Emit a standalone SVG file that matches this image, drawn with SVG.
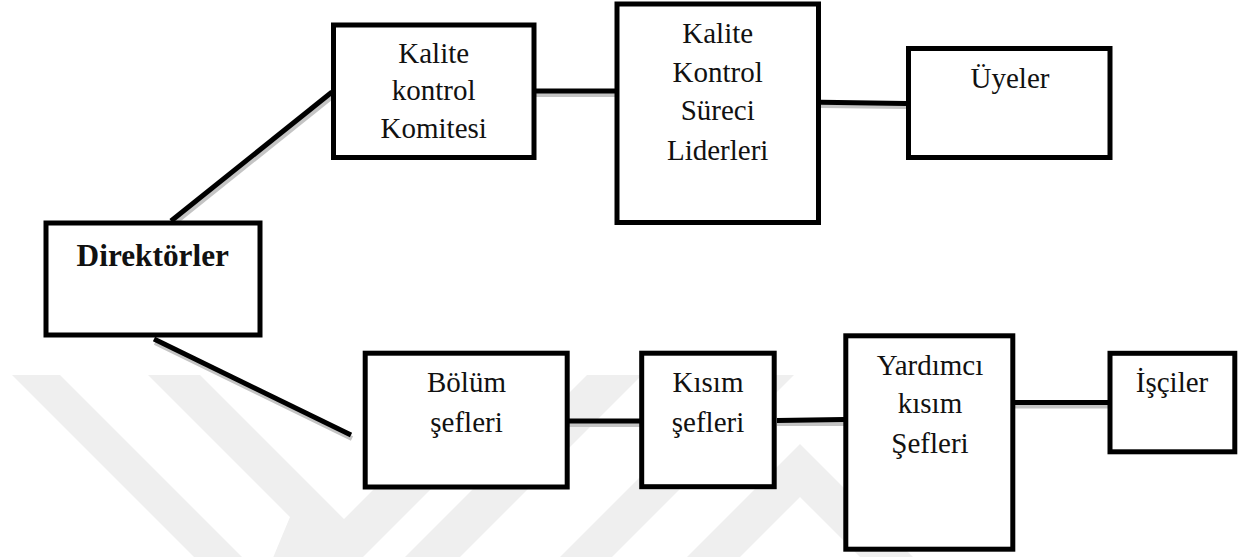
<svg xmlns="http://www.w3.org/2000/svg" width="1257" height="557" viewBox="0 0 1257 557">
<style>
.box{fill:#ffffff;stroke:#000000;stroke-width:5}
.t{font-family:"Liberation Serif","Times New Roman",serif;font-size:29px;fill:#111111;text-anchor:middle}
.tb{font-family:"Liberation Serif","Times New Roman",serif;font-size:31.3px;font-weight:bold;fill:#111111;text-anchor:middle}
.ln{stroke:#000000;stroke-width:5;fill:none}
.sh{stroke:#c4c4c4;stroke-width:5;fill:none}
.wm{fill:#efefef}
</style>
<defs>
<clipPath id="wmclip"><rect x="0" y="375" width="1257" height="182"/></clipPath>
</defs>
<rect x="0" y="0" width="1257" height="557" fill="#ffffff"/>
<g id="watermark" clip-path="url(#wmclip)">
<polygon class="wm" points="12,375 60,375 250,565 202,565"/>
<polygon class="wm" points="148,375 200,375 344,519 476,387 488,375 545,375 307,613 250,613 290,517"/>
<polygon class="wm" points="587,375 642,375 455,562 400,562"/>
<polygon class="wm" points="742,375 794,375 600,569 548,569"/>
<polygon class="wm" points="800,444 915,559 862,559 800,497 740,557 687,557"/>
</g>
<g id="connectors">
<line class="sh" x1="172.5" y1="224.5" x2="333.5" y2="95.5"/>
<line class="sh" x1="536" y1="94.5" x2="615" y2="94.5"/>
<line class="sh" x1="821" y1="105.5" x2="906" y2="106.5"/>
<line class="sh" x1="155" y1="342.5" x2="352" y2="438.5"/>
<line class="sh" x1="569" y1="424.5" x2="640" y2="424.5"/>
<line class="sh" x1="777" y1="423.5" x2="844" y2="423.5"/>
<line class="sh" x1="1015" y1="406" x2="1108" y2="406"/>
<line class="ln" x1="171" y1="221" x2="332" y2="92"/>
<line class="ln" x1="536" y1="91" x2="615" y2="91"/>
<line class="ln" x1="821" y1="102.3" x2="906" y2="103.4"/>
<line class="ln" x1="154" y1="339" x2="351" y2="435"/>
<line class="ln" x1="569" y1="421" x2="640" y2="421"/>
<line class="ln" x1="777" y1="420.5" x2="844" y2="419.5"/>
<line class="ln" x1="1015" y1="402.5" x2="1108" y2="402.5"/>
</g>
<g id="direktorler">
<rect class="box" x="46" y="223" width="214" height="112"/>
<text class="tb" x="152.8" y="265.7">Direktörler</text>
</g>
<g id="kalite-kontrol-komitesi">
<rect class="box" x="333.5" y="25" width="200.5" height="132.5"/>
<text class="t" x="433.7" y="63">Kalite</text>
<text class="t" x="433.7" y="100.3">kontrol</text>
<text class="t" x="433.7" y="138.3">Komitesi</text>
</g>
<g id="kalite-kontrol-sureci-liderleri">
<rect class="box" x="617" y="4" width="201.5" height="218.5"/>
<text class="t" x="717.7" y="43.3">Kalite</text>
<text class="t" x="717.7" y="81.7">Kontrol</text>
<text class="t" x="717.7" y="120">Süreci</text>
<text class="t" x="717.7" y="160">Liderleri</text>
</g>
<g id="uyeler">
<rect class="box" x="908.5" y="48.5" width="201.5" height="109"/>
<text class="t" x="1010" y="88.3">Üyeler</text>
</g>
<g id="bolum-sefleri">
<rect class="box" x="365.2" y="353.2" width="202" height="133.8"/>
<text class="t" x="466.5" y="391.7">Bölüm</text>
<text class="t" x="466.5" y="431.7">şefleri</text>
</g>
<g id="kisim-sefleri">
<rect class="box" x="641.7" y="353.2" width="132.5" height="133.5"/>
<text class="t" x="708" y="391.7">Kısım</text>
<text class="t" x="708" y="431.7">şefleri</text>
</g>
<g id="yardimci-kisim-sefleri">
<rect class="box" x="845.8" y="335.8" width="167" height="213.4"/>
<text class="t" x="930" y="375">Yardımcı</text>
<text class="t" x="930" y="413.3">kısım</text>
<text class="t" x="930" y="453.3">Şefleri</text>
</g>
<g id="isciler">
<rect class="box" x="1110" y="353.3" width="124.8" height="98.5"/>
<text class="t" x="1172" y="391.7">İşçiler</text>
</g>
</svg>
